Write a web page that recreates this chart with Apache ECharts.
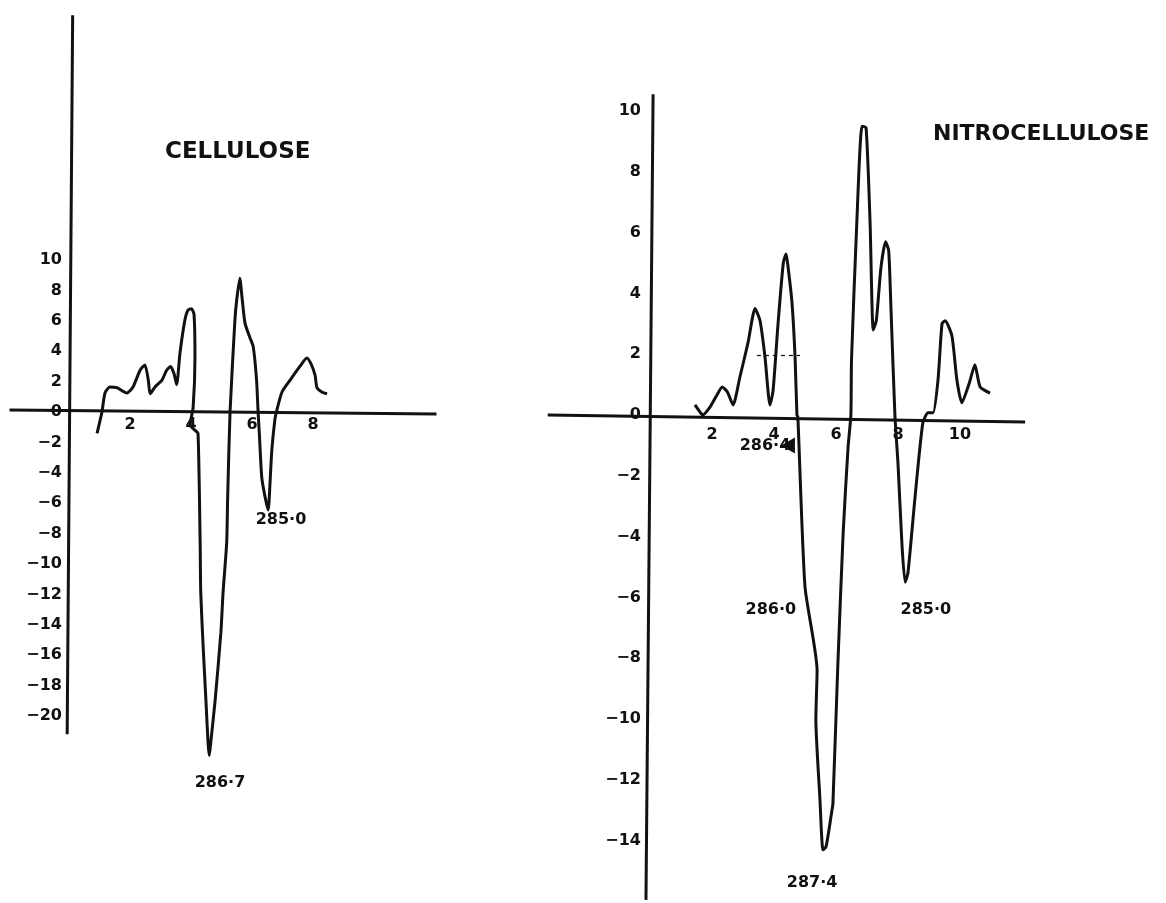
<!DOCTYPE html>
<html>
<head>
<meta charset="utf-8">
<title>Cellulose / Nitrocellulose</title>
<script src="https://cdn.jsdelivr.net/npm/echarts@6.0.0/dist/echarts.min.js"></script>
<style>
  html, body { margin: 0; padding: 0; background: #ffffff; }
  #chart { width: 1166px; height: 903px; }
</style>
</head>
<body>
<div id="chart"></div>
<script>
// ---- Cellulose trace (x: arbitrary units, y: signal) ----
const cellX = [0.92, 1.08, 1.18, 1.34, 1.57, 1.9, 2.1, 2.33, 2.49, 2.6, 2.66, 2.82, 3.05, 3.2, 3.33, 3.44, 3.53, 3.64, 3.8, 3.9, 4.02, 4.1, 4.13, 4.07, 3.97, 4.13, 4.23, 4.3, 4.32, 4.4, 4.49, 4.56, 4.6, 4.66, 4.79, 4.98, 5.05, 5.17, 5.2, 5.28, 5.44, 5.5, 5.6, 5.68, 5.77, 5.93, 6.04, 6.15, 6.2, 6.24, 6.32, 6.43, 6.53, 6.59, 6.65, 6.75, 6.8, 6.98, 7.25, 7.57, 7.8, 7.95, 8.07, 8.13, 8.3, 8.46];
const cellY = [-1.4, 0, 1.25, 1.65, 1.6, 1.25, 1.65, 2.75, 3.1, 2.1, 1.2, 1.65, 2.1, 2.75, 3.0, 2.55, 1.8, 3.9, 6.05, 6.7, 6.8, 6.4, 3.6, 0.3, -0.85, -1.2, -1.4, -8.6, -11.9, -15.5, -19.0, -21.8, -22.6, -21.5, -19.0, -14.5, -11.9, -8.6, -5.8, 0, 6.05, 7.4, 8.8, 7.4, 5.85, 4.9, 4.3, 2.1, 0, -1.4, -4.3, -5.6, -6.45, -4.7, -2.5, -0.5, 0, 1.3, 2.1, 3.0, 3.55, 3.1, 2.4, 1.6, 1.3, 1.2];

// ---- Nitrocellulose trace ----
const nitroX = [1.45, 1.61, 1.7, 1.94, 2.16, 2.33, 2.5, 2.68, 2.9, 3.16, 3.39, 3.55, 3.71, 3.87, 3.97, 4.13, 4.3, 4.39, 4.45, 4.58, 4.68, 4.74, 4.77, 5.0, 5.39, 5.35, 5.48, 5.58, 5.68, 5.87, 5.9, 6.06, 6.23, 6.39, 6.48, 6.5, 6.67, 6.84, 6.97, 7.1, 7.2, 7.3, 7.45, 7.6, 7.7, 7.77, 7.9, 8.0, 8.13, 8.23, 8.32, 8.55, 8.8, 8.97, 9.13, 9.29, 9.42, 9.52, 9.74, 9.9, 10.06, 10.3, 10.48, 10.65, 10.97];
const nitroY = [0.33, 0.1, 0, 0.27, 0.66, 0.92, 0.75, 0.33, 1.25, 2.37, 3.5, 3.1, 1.9, 0.33, 0.8, 3.0, 5.0, 5.3, 4.9, 3.7, 1.9, 0, -0.07, -5.65, -8.4, -10.0, -12.6, -14.3, -14.2, -13.0, -12.8, -8.2, -3.9, -1.05, 0, 1.8, 6.3, 9.5, 9.45, 6.3, 2.8, 3.1, 4.85, 5.7, 5.4, 3.6, 0, -1.6, -4.3, -5.5, -5.2, -2.7, -0.26, 0.07, 0.07, 1.15, 3.0, 3.1, 2.6, 1.15, 0.4, 1.05, 1.65, 0.92, 0.72];

// ---- Tick labels shown on each axis ----
const cellXTicks = [2, 4, 6, 8];
const cellYTicks = [10, 8, 6, 4, 2, 0, -2, -4, -6, -8, -10, -12, -14, -16, -18, -20];
const nitroXTicks = [2, 4, 6, 8, 10];
const nitroYTicks = [10, 8, 6, 4, 2, 0, -2, -4, -6, -8, -10, -12, -14];

// ---- Peak annotations: text and anchor in data units ----
const cellNotes = ['285·0', '286·7'];
const cellNoteX = [6.95, 4.95];
const cellNoteY = [-7.1, -24.4];
const nitroNotes = ['286·4', '286·0', '285·0', '287·4'];
const nitroNoteX = [3.71, 3.9, 8.9, 5.23];
const nitroNoteY = [-1.02, -6.4, -6.4, -15.4];
const nitroArrow = [4.45, -1.0];

// ---- Hand-ruled axis lines (end points in data units) ----
const cellXAxisLine = [[-1.95, 0.13], [12.05, -0.13]];
const cellYAxisLine = [[0.12, 26.1], [-0.06, -21.2]];
const nitroXAxisLine = [[-3.3, 0.0], [12.1, -0.23]];
const nitroYAxisLine = [[0.1, 10.55], [-0.13, -15.95]];
const nitroGuide = [[3.45, 1.97], [4.84, 1.97]];

const INK = '#111111';
const FONT = '"DejaVu Sans", "Liberation Sans", sans-serif';

// scale of each panel (pixels per data unit)
const CELL = { xMin: -2, xMax: 12.2, yMin: -26, yMax: 26.2, px: 30.5, py: 15.2, left: 8, zeroY: 412 };
const NITRO = { xMin: -4, xMax: 12.4, yMin: -16, yMax: 12, px: 31, py: 30.4, left: 526, zeroY: 415 };

function gridOf(p) {
  return {
    left: p.left,
    top: p.zeroY - p.yMax * p.py,
    width: (p.xMax - p.xMin) * p.px,
    height: (p.yMax - p.yMin) * p.py,
    containLabel: false,
    outerBoundsMode: 'none'
  };
}

const pairs = (xs, ys) => xs.map((x, i) => [x, ys[i]]);
const seg = (ends) => [{ coord: ends[0] }, { coord: ends[1] }];
// show only the listed ticks, with a long typographic minus
const only = (list) => (v) => (list.indexOf(Math.round(v * 100) / 100) >= 0 ? String(v).replace('-', '\u2212') : '');

const labelStyle = { color: INK, fontFamily: FONT, fontWeight: 'bold', fontSize: 16 };

function valueAxis(gi, min, max, ticks, margin, position, offset) {
  return {
    type: 'value', gridIndex: gi, min: min, max: max, interval: 2,
    position: position, offset: offset,
    axisLine: { show: false, onZero: false },
    axisTick: { show: false }, splitLine: { show: false },
    axisLabel: Object.assign({ margin: margin, formatter: only(ticks), showMinLabel: true, showMaxLabel: true }, labelStyle)
  };
}

// axes are carried to the zero of the other axis with an offset from the grid edge
const cellG = gridOf(CELL), nitroG = gridOf(NITRO);

const option = {
  backgroundColor: '#ffffff',
  animation: false,
  title: [
    { text: 'CELLULOSE', left: 160, top: 136, textStyle: { color: INK, fontFamily: FONT, fontWeight: 'bold', fontSize: 23 } },
    { text: 'NITROCELLULOSE', left: 928, top: 118, textStyle: { color: INK, fontFamily: FONT, fontWeight: 'bold', fontSize: 22 } }
  ],
  grid: [cellG, nitroG],
  xAxis: [
    valueAxis(0, CELL.xMin, CELL.xMax, cellXTicks, 5, 'bottom', -(cellG.top + cellG.height - CELL.zeroY)),
    valueAxis(1, NITRO.xMin, NITRO.xMax, nitroXTicks, 12, 'bottom', -(nitroG.top + nitroG.height - NITRO.zeroY))
  ],
  yAxis: [
    valueAxis(0, CELL.yMin, CELL.yMax, cellYTicks, 7, 'left', CELL.xMin * CELL.px),
    valueAxis(1, NITRO.yMin, NITRO.yMax, nitroYTicks, 9, 'left', NITRO.xMin * NITRO.px)
  ],
  series: [
    {
      name: 'Cellulose', type: 'line', xAxisIndex: 0, yAxisIndex: 0,
      data: pairs(cellX, cellY), smooth: 0.2, showSymbol: false, clip: false,
      lineStyle: { color: INK, width: 3 },
      markLine: {
        silent: true, symbol: 'none', label: { show: false },
        lineStyle: { color: INK, width: 3, type: 'solid' },
        data: [seg(cellXAxisLine), seg(cellYAxisLine)]
      }
    },
    {
      name: 'Nitrocellulose', type: 'line', xAxisIndex: 1, yAxisIndex: 1,
      data: pairs(nitroX, nitroY), smooth: 0.2, showSymbol: false, clip: false,
      lineStyle: { color: INK, width: 3 },
      markLine: {
        silent: true, symbol: 'none', label: { show: false },
        lineStyle: { color: INK, width: 3, type: 'solid' },
        data: [
          seg(nitroXAxisLine),
          seg(nitroYAxisLine),
          [{ coord: nitroGuide[0], lineStyle: { type: [4, 4], width: 1.2, color: INK } }, { coord: nitroGuide[1] }]
        ]
      }
    },
    {
      name: 'cellNotes', type: 'scatter', xAxisIndex: 0, yAxisIndex: 0, clip: false, silent: true,
      symbolSize: 0, itemStyle: { opacity: 1 },
      data: cellNotes.map((t, i) => ({ name: t, value: [cellNoteX[i], cellNoteY[i]] })),
      label: Object.assign({ show: true, position: 'inside', formatter: '{b}' }, labelStyle, { fontSize: 16 })
    },
    {
      name: 'nitroNotes', type: 'scatter', xAxisIndex: 1, yAxisIndex: 1, clip: false, silent: true,
      symbolSize: 0, itemStyle: { opacity: 1 },
      data: nitroNotes.map((t, i) => ({ name: t, value: [nitroNoteX[i], nitroNoteY[i]] })),
      label: Object.assign({ show: true, position: 'inside', formatter: '{b}' }, labelStyle, { fontSize: 16 })
    },
    {
      name: 'nitroArrow', type: 'scatter', xAxisIndex: 1, yAxisIndex: 1, clip: false, silent: true,
      symbol: 'triangle', symbolSize: [16, 14], symbolRotate: 90,
      itemStyle: { color: INK, opacity: 1 },
      data: [nitroArrow]
    }
  ]
};

const chart = echarts.init(document.getElementById('chart'), null, { renderer: 'canvas' });
chart.setOption(option);
</script>
</body>
</html>
